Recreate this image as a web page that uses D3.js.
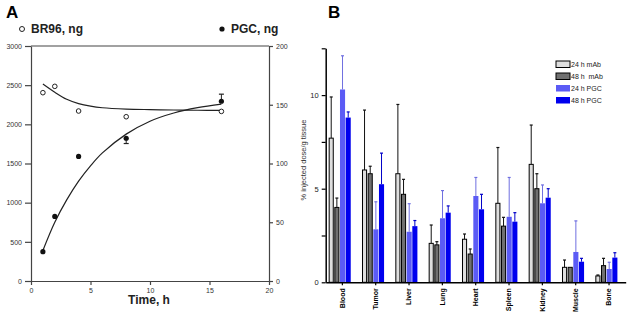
<!DOCTYPE html>
<html>
<head>
<meta charset="utf-8">
<script src="https://cdn.jsdelivr.net/npm/d3@7"></script>
<style>
  body { margin: 0; background: #fff; }
  svg { font-family: "Liberation Sans", Arial, sans-serif; }
</style>
</head>
<body>
<div id="chart"></div>
<script>
// Panel A data
const timeBR = [1, 2, 4, 8, 16];
const br96 = [2404, 2485, 2170, 2097, 2165];
const timePGC = [1, 2, 4, 8, 16];
const pgc = [25, 55, 106, 121.5, 153];
const pgcErr = [null, null, null, 117, 159];
// fitted curves
const fitTime = [1, 2, 3, 4, 5, 6, 8, 10, 12, 14, 16];
const fitBR = [2515, 2410, 2320, 2265, 2232, 2212, 2195, 2188, 2183, 2180, 2178];
const fitPGC = [26, 50, 69, 85, 98, 109, 125, 136, 143, 147.5, 150.5];

// Panel B data
const organs = ["Blood", "Tumor", "Liver", "Lung", "Heart", "Spleen", "Kidney", "Muscle", "Bone"];
const seriesNames = ["24 h mAb", "48 h  mAb", "24 h PGC", "48 h PGC"];
const mAb24 = [7.7, 6.0, 5.8, 2.08, 2.3, 4.22, 6.3, 0.8, 0.34];
const mAb24Err = [9.9, 9.2, 9.5, 3.06, 2.58, 7.2, 8.4, 1.19, 0.39];
const mAb48 = [4.0, 5.8, 4.7, 2.0, 1.51, 3.0, 5.0, 0.8, 0.89];
const mAb48Err = [4.5, 6.2, 5.5, 2.17, 1.78, 3.47, 5.8, 0.8, 1.28];
const pgc24 = [10.3, 2.83, 2.7, 3.42, 4.61, 3.5, 4.22, 1.62, 0.71];
const pgc24Err = [12.1, 4.3, 4.2, 4.9, 5.6, 5.6, 5.2, 3.28, 1.07];
const pgc48 = [8.8, 5.24, 3.0, 3.72, 3.9, 3.24, 4.52, 1.1, 1.32];
const pgc48Err = [9.1, 6.9, 3.3, 4.08, 4.7, 3.72, 5.0, 1.28, 1.58];
const yTicksB = [0, 2.5, 5, 7.5, 10, 12.5];

const svg = d3.select("#chart").append("svg")
  .attr("width", 629).attr("height", 315);

// ---------- Panel A ----------
const xA = d3.scaleLinear().domain([0, 20]).range([31, 269]);
const yL = d3.scaleLinear().domain([0, 3000]).range([281, 46]);
const yR = d3.scaleLinear().domain([0, 200]).range([281, 46]);
const axisCol = "#444";

const gA = svg.append("g");

function styleAxis(g) {
  g.selectAll("path, line").attr("stroke", axisCol).attr("stroke-width", 1.2);
  g.selectAll("text").attr("fill", "#333").style("font-size", "7px");
}

gA.append("g").attr("transform", "translate(0,281)")
  .call(d3.axisBottom(xA).tickValues([0, 5, 10, 15, 20]).tickFormat(d3.format("d")).tickSize(4).tickSizeOuter(0))
  .call(styleAxis);
gA.append("g").attr("transform", "translate(31,0)")
  .call(d3.axisLeft(yL).tickValues([0, 500, 1000, 1500, 2000, 2500, 3000]).tickFormat(d3.format("d")).tickSize(6).tickSizeOuter(0))
  .call(styleAxis);
gA.append("g").attr("transform", "translate(269,0)")
  .call(d3.axisRight(yR).tickValues([0, 50, 100, 150, 200]).tickFormat(d3.format("d")).tickSize(4).tickSizeOuter(0))
  .call(styleAxis);
// top border
gA.append("line").attr("x1", xA(0)).attr("x2", xA(20)).attr("y1", yL(3000)).attr("y2", yL(3000))
  .attr("stroke", axisCol).attr("stroke-width", 1.2);

// fitted curves
const idx = d3.range(fitTime.length);
gA.append("path")
  .attr("d", d3.line().curve(d3.curveCatmullRom).x(i => xA(fitTime[i])).y(i => yL(fitBR[i]))(idx))
  .attr("fill", "none").attr("stroke", "#222").attr("stroke-width", 1.2);
gA.append("path")
  .attr("d", d3.line().curve(d3.curveCatmullRom).x(i => xA(fitTime[i])).y(i => yR(fitPGC[i]))(idx))
  .attr("fill", "none").attr("stroke", "#222").attr("stroke-width", 1.2);

// PGC error bars
timePGC.forEach((t, i) => {
  if (pgcErr[i] == null) return;
  gA.append("line").attr("x1", xA(t)).attr("x2", xA(t)).attr("y1", yR(pgc[i])).attr("y2", yR(pgcErr[i]))
    .attr("stroke", "#222").attr("stroke-width", 1);
  gA.append("line").attr("x1", xA(t) - 2.5).attr("x2", xA(t) + 2.5).attr("y1", yR(pgcErr[i])).attr("y2", yR(pgcErr[i]))
    .attr("stroke", "#222").attr("stroke-width", 1.2);
});

// points
gA.selectAll(".br").data(timeBR).enter().append("circle")
  .attr("cx", d => xA(d)).attr("cy", (d, i) => yL(br96[i])).attr("r", 2.3)
  .attr("fill", "#fff").attr("stroke", "#222").attr("stroke-width", 1);
gA.selectAll(".pg").data(timePGC).enter().append("circle")
  .attr("cx", d => xA(d)).attr("cy", (d, i) => yR(pgc[i])).attr("r", 2.6)
  .attr("fill", "#111");

// titles
svg.append("text").attr("x", 6).attr("y", 18).text("A")
  .style("font-size", "17px").style("font-weight", "bold");
svg.append("circle").attr("cx", 22).attr("cy", 29).attr("r", 2.5)
  .attr("fill", "#fff").attr("stroke", "#222").attr("stroke-width", 1);
svg.append("text").attr("x", 31).attr("y", 33).text("BR96, ng")
  .style("font-size", "12px").style("font-weight", "bold").attr("fill", "#222");
svg.append("circle").attr("cx", 222).attr("cy", 29).attr("r", 2.6).attr("fill", "#111");
svg.append("text").attr("x", 231).attr("y", 33).text("PGC, ng")
  .style("font-size", "12px").style("font-weight", "bold").attr("fill", "#222");
svg.append("text").attr("x", 149).attr("y", 304).attr("text-anchor", "middle").text("Time, h")
  .style("font-size", "12px").style("font-weight", "bold").attr("fill", "#222");
svg.append("text").attr("transform", "translate(306,160) rotate(-90)").attr("text-anchor", "middle")
  .text("% injected dose/g tissue").style("font-size", "7.5px").attr("fill", "#333");

// ---------- Panel B ----------
const xB = d3.scaleBand().domain(organs).range([325.7, 625.7]);
const xS = d3.scaleBand().domain(seriesNames).range([2.4, 25.6]).padding(0.1);
const yB = d3.scaleLinear().domain([0, 12.5]).range([282.3, 48.3]);

const series = [
  { name: seriesNames[0], vals: mAb24, err: mAb24Err, fill: "#dedede", stroke: "#000", errCol: "#111" },
  { name: seriesNames[1], vals: mAb48, err: mAb48Err, fill: "#707070", stroke: "#000", errCol: "#111" },
  { name: seriesNames[2], vals: pgc24, err: pgc24Err, fill: "#5b5bf5", stroke: "none", errCol: "#6f6fe0" },
  { name: seriesNames[3], vals: pgc48, err: pgc48Err, fill: "#0000ee", stroke: "none", errCol: "#0000c8" }
];

const gB = svg.append("g");

series.forEach(s => {
  const g = gB.append("g");
  organs.forEach((o, i) => {
    const x0 = xB(o) + xS(s.name);
    const w = xS.bandwidth();
    const cx = x0 + w / 2;
    // error bar
    if (s.err[i] > s.vals[i]) {
      g.append("line").attr("x1", cx).attr("x2", cx).attr("y1", yB(s.vals[i])).attr("y2", yB(s.err[i]))
        .attr("stroke", s.errCol).attr("stroke-width", 1);
      g.append("line").attr("x1", cx - 1.5).attr("x2", cx + 1.5).attr("y1", yB(s.err[i])).attr("y2", yB(s.err[i]))
        .attr("stroke", s.errCol).attr("stroke-width", 1.2);
    }
    if (s.stroke === "none") {
      g.append("rect").attr("x", x0).attr("width", w)
        .attr("y", yB(s.vals[i])).attr("height", yB(0) - yB(s.vals[i]))
        .attr("fill", s.fill);
    } else {
      g.append("rect").attr("x", x0 + 0.5).attr("width", w - 1)
        .attr("y", yB(s.vals[i])).attr("height", yB(0) - yB(s.vals[i]))
        .attr("fill", s.fill).attr("stroke", s.stroke).attr("stroke-width", 1);
    }
  });
});

// axes B
const axB = gB.append("g").attr("transform", "translate(0,282.3)")
  .call(d3.axisBottom(xB).tickSize(3).tickSizeOuter(0));
axB.select(".domain").attr("stroke", "#000").attr("stroke-width", 1.5);
axB.selectAll("line").attr("stroke", "#000").attr("stroke-width", 1.2);
axB.selectAll("text")
  .attr("transform", "rotate(-90)")
  .attr("x", -6).attr("y", 0).attr("dy", "0.35em")
  .style("text-anchor", "end").style("font-size", "7px").style("font-weight", "bold")
  .attr("fill", "#000");

const ayB = gB.append("g").attr("transform", "translate(325.7,0)")
  .call(d3.axisLeft(yB).tickValues(yTicksB).tickSize(4).tickSizeOuter(0)
    .tickFormat(d => (d % 5 === 0 ? d : "")));
ayB.select(".domain").attr("stroke", "#000").attr("stroke-width", 1.5);
ayB.selectAll("line").attr("stroke", "#000").attr("stroke-width", 1.2);
ayB.selectAll("text").style("font-size", "7.5px").attr("fill", "#222");

svg.append("text").attr("x", 328).attr("y", 18).text("B")
  .style("font-size", "17px").style("font-weight", "bold");

// legend B
const leg = gB.append("g").attr("transform", "translate(556,61)");
series.forEach((s, i) => {
  const row = leg.append("g").attr("transform", "translate(0," + i * 12 + ")");
  row.append("rect").attr("x", 0).attr("y", 0).attr("width", 14).attr("height", 6.5)
    .attr("fill", s.fill).attr("stroke", s.stroke === "none" ? "none" : "#000").attr("stroke-width", 1);
  row.append("text").attr("x", 15).attr("y", 6.2).text(s.name)
    .style("font-size", "7px").attr("fill", "#222").attr("xml:space", "preserve");
});
</script>
</body>
</html>
